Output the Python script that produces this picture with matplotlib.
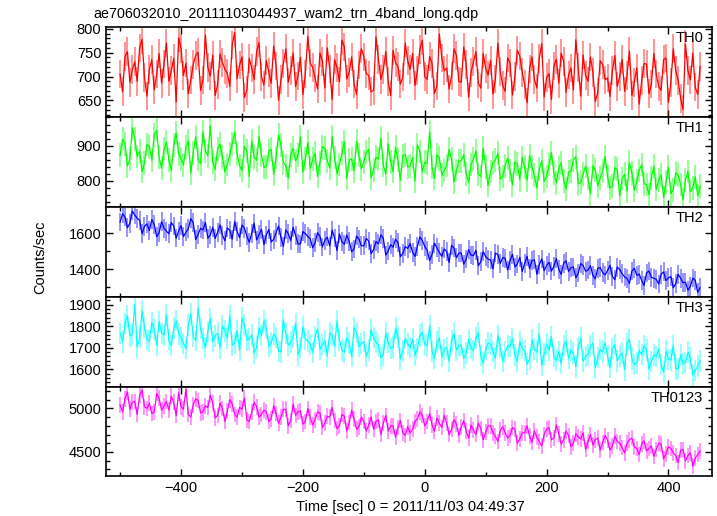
import numpy as np
import matplotlib
matplotlib.use('Agg')
import matplotlib.pyplot as plt
from matplotlib.ticker import MultipleLocator

plt.rcParams['font.family'] = ['Liberation Sans', 'DejaVu Sans']

# time bins (sec), 4 s step; "a" values at -500, -492, ... and "b" values at -496, -488, ...
t = np.arange(-500, 453, 4)

th0_a = [705, 742, 688, 731, 760, 698, 715, 672, 748, 726,
         690, 738, 781, 702, 664, 725, 751, 693, 719, 745,
         683, 729, 707, 766, 695, 741, 671, 718, 752, 700,
         733, 686, 722, 694, 758, 712, 679, 740, 705, 728,
         697, 749, 676, 716, 735, 689, 762, 708, 684, 724,
         741, 702, 671, 736, 714, 690, 755, 721, 699, 733,
         748, 712, 776, 694, 727, 680, 739, 718, 701, 744,
         688, 725, 709, 752, 676, 717, 734, 695, 711, 669,
         728, 700, 743, 683, 716, 694, 738, 657, 706, 722,
         686, 731, 703, 672, 719, 745, 690, 708, 667, 725,
         697, 712, 679, 736, 702, 660, 718, 691, 726, 684,
         705, 671, 739, 688, 712, 654, 768, 693, 678, 721]
th0_b = [668, 752, 714, 690, 778, 659, 735, 705, 686, 770,
         712, 647, 759, 728, 693, 744, 671, 787, 701, 660,
         747, 715, 679, 792, 724, 656, 738, 694, 771, 682,
         709, 764, 650, 727, 688, 749, 701, 662, 784, 719,
         674, 732, 760, 652, 719, 776, 695, 741, 663, 758,
         706, 668, 783, 694, 752, 660, 729, 684, 770, 715,
         681, 757, 700, 742, 665, 789, 712, 674, 758, 690,
         762, 657, 731, 686, 748, 703, 663, 770, 681, 739,
         661, 755, 709, 645, 741, 676, 769, 698, 652, 736,
         749, 667, 718, 777, 659, 702, 741, 648, 733, 693,
         658, 744, 700, 669, 753, 688, 642, 727, 664, 748,
         679, 735, 646, 758, 692, 631, 712, 749, 662]

th1_a = [872, 905, 861, 918, 884, 850, 897, 931, 866, 889,
         858, 902, 876, 845, 913, 880, 862, 940, 871, 853,
         891, 868, 846, 905, 877, 829, 884, 913, 858, 872,
         840, 889, 866, 901, 843, 874, 857, 925, 862, 835,
         878, 851, 893, 836, 866, 846, 911, 859, 828, 872,
         854, 889, 831, 862, 843, 905, 826, 858, 871, 839,
         866, 902, 825, 850, 838, 874, 815, 843, 861, 829,
         857, 820, 846, 884, 812, 838, 826, 859, 804, 842,
         829, 853, 803, 838, 871, 815, 832, 798, 846, 821,
         836, 800, 824, 859, 791, 818, 806, 842, 785, 827,
         812, 784, 833, 806, 770, 821, 798, 846, 789, 808,
         775, 817, 796, 763, 822, 789, 802, 769, 811, 784]
th1_b = [918, 842, 951, 869, 826, 903, 858, 944, 835, 910,
         829, 936, 861, 897, 821, 925, 848, 885, 957, 832,
         904, 825, 876, 939, 843, 898, 812, 867, 926, 838,
         885, 818, 930, 851, 807, 892, 873, 824, 909, 861,
         812, 897, 857, 925, 820, 879, 806, 862, 912, 834,
         881, 808, 867, 921, 819, 853, 896, 801, 874, 842,
         799, 883, 852, 938, 806, 865, 829, 889, 797, 856,
         874, 795, 861, 818, 893, 786, 851, 878, 812, 865,
         788, 848, 866, 801, 839, 779, 857, 812, 880, 794,
         851, 776, 827, 868, 795, 842, 763, 831, 808, 869,
         779, 837, 756, 818, 852, 773, 829, 791, 760, 841,
         801, 752, 838, 774, 815, 746, 826, 780, 757]

th2_a = [1662, 1690, 1655, 1701, 1672, 1638, 1615, 1649, 1603, 1628,
         1597, 1640, 1612, 1581, 1625, 1658, 1594, 1618, 1572, 1633,
         1605, 1588, 1629, 1567, 1611, 1645, 1584, 1600, 1563, 1622,
         1590, 1551, 1603, 1575, 1619, 1558, 1586, 1540, 1598, 1569,
         1547, 1582, 1561, 1529, 1574, 1596, 1538, 1555, 1512, 1567,
         1530, 1556, 1509, 1541, 1572, 1501, 1522, 1548, 1488, 1515,
         1494, 1527, 1560, 1505, 1482, 1519, 1471, 1498, 1533, 1463,
         1490, 1456, 1478, 1505, 1442, 1470, 1451, 1489, 1432, 1461,
         1447, 1412, 1466, 1431, 1403, 1452, 1425, 1391, 1438, 1416,
         1398, 1433, 1387, 1412, 1378, 1420, 1395, 1365, 1404, 1381,
         1392, 1360, 1411, 1374, 1348, 1389, 1366, 1337, 1378, 1355,
         1343, 1372, 1336, 1358, 1320, 1349, 1327, 1305, 1338, 1296]
th2_b = [1708, 1631, 1724, 1683, 1597, 1652, 1676, 1580, 1664, 1611,
         1659, 1573, 1642, 1606, 1681, 1565, 1627, 1660, 1590, 1571,
         1646, 1558, 1617, 1664, 1575, 1628, 1549, 1655, 1591, 1537,
         1621, 1566, 1640, 1528, 1597, 1633, 1541, 1609, 1582, 1519,
         1603, 1524, 1578, 1617, 1503, 1552, 1590, 1497, 1584, 1530,
         1571, 1486, 1553, 1590, 1478, 1536, 1567, 1469, 1526, 1542,
         1471, 1579, 1526, 1448, 1544, 1493, 1512, 1437, 1517, 1489,
         1428, 1509, 1475, 1419, 1497, 1456, 1402, 1481, 1465, 1395,
         1483, 1429, 1387, 1472, 1448, 1372, 1457, 1421, 1389, 1459,
         1371, 1446, 1408, 1352, 1431, 1388, 1419, 1346, 1409, 1368,
         1421, 1341, 1398, 1357, 1320, 1405, 1372, 1310, 1390, 1349,
         1318, 1385, 1352, 1296, 1371, 1324, 1282, 1350, 1271]

th3_a = [1770, 1812, 1755, 1902, 1748, 1795, 1731, 1786, 1822, 1760,
         1738, 1791, 1765, 1720, 1807, 1752, 1884, 1743, 1776, 1729,
         1768, 1801, 1745, 1712, 1779, 1838, 1737, 1760, 1704, 1757,
         1790, 1723, 1748, 1681, 1766, 1727, 1814, 1701, 1742, 1715,
         1751, 1694, 1733, 1769, 1708, 1736, 1680, 1722, 1795, 1706,
         1729, 1690, 1748, 1712, 1667, 1724, 1703, 1751, 1685, 1718,
         1741, 1696, 1772, 1709, 1683, 1726, 1660, 1701, 1734, 1689,
         1712, 1675, 1698, 1745, 1664, 1693, 1718, 1652, 1701, 1680,
         1706, 1668, 1729, 1688, 1647, 1695, 1766, 1671, 1690, 1659,
         1683, 1712, 1650, 1675, 1701, 1639, 1668, 1722, 1655, 1681,
         1662, 1697, 1640, 1676, 1718, 1649, 1630, 1670, 1691, 1637,
         1659, 1622, 1685, 1644, 1603, 1668, 1631, 1652, 1594, 1640]
th3_b = [1728, 1849, 1762, 1705, 1871, 1739, 1818, 1712, 1768, 1853,
         1710, 1826, 1748, 1697, 1859, 1734, 1790, 1701, 1837, 1756,
         1699, 1779, 1850, 1722, 1689, 1806, 1741, 1675, 1793, 1826,
         1706, 1764, 1684, 1830, 1712, 1751, 1667, 1797, 1733, 1679,
         1789, 1715, 1663, 1758, 1825, 1690, 1747, 1659, 1771, 1720,
         1662, 1783, 1726, 1654, 1769, 1698, 1792, 1648, 1744, 1701,
         1667, 1759, 1717, 1803, 1650, 1745, 1692, 1638, 1768, 1710,
         1651, 1739, 1688, 1771, 1629, 1722, 1683, 1758, 1637, 1708,
         1744, 1636, 1697, 1625, 1736, 1680, 1619, 1718, 1752, 1642,
         1627, 1731, 1689, 1612, 1746, 1660, 1708, 1607, 1693, 1722,
         1609, 1715, 1662, 1598, 1739, 1623, 1687, 1710, 1601, 1668,
         1696, 1587, 1647, 1712, 1604, 1626, 1680, 1574, 1615]

th0123_a = [5040, 5110, 4990, 5080, 5150, 5020, 5060, 4960, 5120, 5030,
            4980, 5070, 5180, 4990, 4930, 5040, 5090, 4960, 5010, 5060,
            4920, 5000, 4970, 5050, 4900, 4990, 4870, 4960, 5020, 4930,
            4960, 4880, 4940, 4900, 4990, 4860, 4920, 4970, 4850, 4900,
            4870, 4950, 4830, 4900, 4860, 4800, 4910, 4840, 4880, 4790,
            4850, 4810, 4760, 4870, 4830, 4740, 4800, 4780, 4720, 4790,
            4760, 4880, 4920, 4850, 4810, 4890, 4780, 4830, 4760, 4820,
            4790, 4740, 4810, 4700, 4770, 4730, 4800, 4680, 4750, 4720,
            4690, 4760, 4650, 4720, 4680, 4740, 4620, 4700, 4780, 4660,
            4710, 4640, 4690, 4600, 4670, 4720, 4620, 4580, 4660, 4610,
            4640, 4570, 4620, 4550, 4600, 4660, 4540, 4590, 4510, 4570,
            4530, 4590, 4480, 4540, 4460, 4520, 4400, 4490, 4430, 4510]
th0123_b = [4960, 5190, 5070, 4930, 5210, 5000, 4940, 5170, 4980, 5080,
            5140, 4920, 5020, 5220, 4900, 5110, 4950, 5030, 5150, 4890,
            5060, 4850, 5100, 4930, 5010, 5120, 4850, 5070, 4900, 4980,
            4850, 5030, 4830, 4990, 4800, 5050, 4960, 4820, 5000, 4810,
            4960, 4780, 4910, 5010, 4770, 4930, 4740, 4980, 4760, 4900,
            4740, 4900, 4850, 4700, 4920, 4800, 4670, 4860, 4690, 4720,
            4850, 4960, 4800, 4940, 4740, 4830, 4920, 4700, 4870, 4690,
            4860, 4660, 4750, 4830, 4640, 4800, 4720, 4620, 4790, 4660,
            4780, 4600, 4720, 4800, 4610, 4670, 4570, 4760, 4640, 4810,
            4590, 4740, 4560, 4710, 4650, 4530, 4700, 4640, 4520, 4690,
            4520, 4680, 4600, 4490, 4640, 4560, 4470, 4630, 4540, 4450,
            4600, 4420, 4560, 4490, 4380, 4530, 4460, 4340, 4470]

series = [(th0_a, th0_b), (th1_a, th1_b), (th2_a, th2_b),
          (th3_a, th3_b), (th0123_a, th0123_b)]
names = ['TH0', 'TH1', 'TH2', 'TH3', 'TH0123']
colors = ['#ff0000', '#00ff00', '#0000ff', '#00ffff', '#ff00ff']
errs = [30, 34, 52, 50, 90]
ylims = [(615, 803), (725, 981), (1246, 1746), (1520, 1937), (4219, 5250)]
ymajor = [50, 100, 200, 100, 500]
yminor = [10, 20, 100, 20, 100]

fig = plt.figure(figsize=(7.17, 5.16), dpi=100)
gs = fig.add_gridspec(5, 1, left=0.148, right=0.9926, bottom=0.0766,
                      top=0.9471, hspace=0)

for i in range(5):
    ax = fig.add_subplot(gs[i])
    a, b = series[i]
    y = np.empty(len(t))
    y[0::2] = a
    y[1::2] = b
    ax.errorbar(t, y, yerr=errs[i], fmt='none', ecolor=colors[i],
                elinewidth=1.3, alpha=0.45)
    ax.plot(t, y, color=colors[i], lw=0.9)
    ax.set_xlim(-523, 471)
    ax.set_ylim(*ylims[i])
    ax.xaxis.set_major_locator(MultipleLocator(200))
    ax.xaxis.set_minor_locator(MultipleLocator(100))
    ax.yaxis.set_major_locator(MultipleLocator(ymajor[i]))
    ax.yaxis.set_minor_locator(MultipleLocator(yminor[i]))
    ax.tick_params(which='both', direction='in', top=True, right=True,
                   labelsize=10.5, width=1)
    ax.tick_params(which='major', length=5)
    ax.tick_params(which='minor', length=3)
    for s in ax.spines.values():
        s.set_linewidth(1.2)
    if i < 4:
        ax.tick_params(labelbottom=False)
    ax.text(0.986, 0.878, names[i], transform=ax.transAxes, ha='right',
            va='center', fontsize=10.5)

fig.text(93 / 717, 1 - 14 / 516, 'ae706032010_20111103044937_wam2_trn_4band_long.qdp',
         ha='left', va='center', fontsize=10.3)
fig.text(40 / 717, 1 - 257 / 516, 'Counts/sec', rotation=90, ha='center',
         va='center', fontsize=10.5)
fig.text(410 / 717, 1 - 507 / 516, 'Time [sec] 0 = 2011/11/03 04:49:37',
         ha='center', va='center', fontsize=10.5)

plt.savefig('out.png', dpi=100)
